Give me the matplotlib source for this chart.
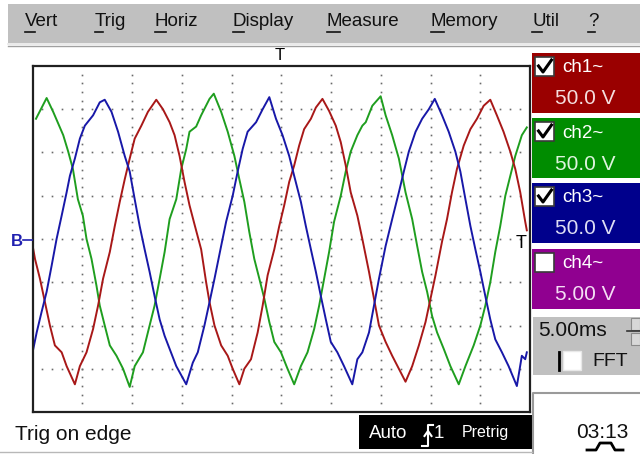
import numpy as np
import matplotlib
matplotlib.use("Agg")
import matplotlib.pyplot as plt
from matplotlib.patches import Rectangle

plt.rcParams['font.family'] = ['Liberation Sans', 'DejaVu Sans']

# ---- trace data (time in ms, voltage in V) ----
t_ch1 = [0.08, 0.25, 0.75, 1.25, 1.75, 2.25, 2.93, 3.43, 4.26, 4.76,
         5.43, 6.09, 6.59, 7.09, 7.77, 8.27, 8.77, 9.27, 9.77, 10.27,
         10.94, 11.60, 12.44, 13.11, 13.78, 14.28, 14.78, 15.28, 15.78, 16.28,
         16.95, 17.45, 17.79, 18.29, 18.96, 19.62, 20.12, 20.79, 21.29, 21.96,
         22.63, 23.13, 23.63, 24.30, 24.80, 25.30, 25.80, 26.30, 26.80, 27.30,
         27.98, 28.48, 29.14, 29.81, 30.48, 30.98, 31.48, 31.98, 32.65, 33.15,
         33.82, 34.32, 34.82, 35.49, 36.15, 36.82, 37.49, 38.16, 38.83, 39.50,
         40.00, 40.50, 41.16, 41.66, 42.16, 42.66, 43.34, 44.01, 44.67, 45.34,
         46.01, 46.67, 47.34, 48.02, 48.52, 49.02, 49.52, 49.68]
v_ch1 = [-12, -23, -46, -73, -100, -123, -131, -147, -168, -147,
         -131, -104, -77, -46, -15, 15, 43, 69, 93, 116,
         131, 147, 161, 150, 135, 120, 96, 66, 39, 17,
         -12, -50, -73, -100, -123, -135, -150, -168, -150, -139,
         -108, -77, -42, -12, 15, 39, 66, 85, 108, 127,
         139, 152, 162, 148, 131, 112, 85, 54, 27, 0,
         -38, -69, -100, -119, -135, -150, -165, -147, -123, -96,
         -69, -42, -3, 23, 54, 81, 108, 127, 139, 154,
         161, 143, 124, 101, 81, 54, 20, 10]

t_ch2 = [0.35, 1.42, 2.08, 3.09, 3.59, 4.06, 4.56, 5.06, 5.43, 5.93,
         6.43, 6.76, 7.26, 7.77, 8.44, 9.10, 9.77, 10.27, 11.10, 11.77,
         12.27, 12.78, 13.28, 13.78, 14.45, 14.95, 15.45, 15.78, 16.45, 16.95,
         17.79, 18.22, 18.96, 19.62, 20.29, 20.79, 21.29, 21.79, 22.29, 22.80,
         23.30, 23.80, 24.30, 24.97, 25.63, 26.30, 26.97, 27.64, 28.31, 28.81,
         29.31, 29.81, 30.31, 30.98, 31.48, 31.98, 32.65, 33.15, 33.49, 34.15,
         34.99, 35.49, 36.15, 36.82, 37.49, 38.16, 38.66, 39.16, 39.66, 40.16,
         40.66, 41.33, 42.00, 42.84, 43.51, 44.34, 45.01, 45.51, 46.01, 46.51,
         47.01, 47.52, 48.02, 48.52, 49.18, 49.68]
v_ch2 = [139, 163, 147, 120, 101, 81, 46, 27, 0, -23,
         -54, -77, -100, -123, -135, -150, -171, -147, -131, -100,
         -77, -46, -15, 23, 46, 81, 104, 124, 130, 143,
         162, 168, 147, 124, 96, 69, 43, 8, -23, -46,
         -69, -96, -119, -131, -150, -168, -147, -131, -104, -77,
         -46, -15, 20, 50, 78, 101, 120, 131, 135, 154,
         165, 143, 120, 93, 54, 23, -8, -38, -61, -89,
         -108, -127, -147, -168, -147, -123, -100, -77, -50, -15,
         15, 50, 73, 96, 120, 129]

t_ch3 = [0.08, 0.42, 0.92, 1.42, 1.92, 2.42, 2.93, 3.43, 3.76, 4.26,
         4.76, 5.26, 6.09, 6.76, 7.26, 7.94, 8.60, 9.27, 9.77, 10.27,
         10.77, 11.27, 11.77, 12.27, 12.78, 13.28, 13.78, 14.45, 15.45, 16.11,
         16.61, 17.28, 17.79, 18.29, 18.96, 19.46, 20.12, 20.62, 21.12, 21.62,
         22.47, 23.13, 23.80, 24.47, 25.13, 25.80, 26.30, 26.97, 27.47, 27.98,
         28.48, 28.98, 29.48, 29.98, 30.64, 31.31, 32.14, 32.65, 33.15, 33.82,
         34.32, 34.82, 35.49, 36.15, 36.82, 37.32, 37.82, 38.50, 39.16, 39.83,
         40.43, 41.16, 41.83, 42.50, 43.00, 43.51, 44.01, 44.51, 45.01, 45.51,
         46.01, 46.51, 47.18, 47.85, 48.68, 49.18, 49.52, 49.68]
v_ch3 = [-127, -108, -84, -61, -31, 0, 27, 54, 73, 93,
         116, 131, 143, 158, 161, 147, 124, 96, 78, 46,
         15, -12, -38, -66, -93, -112, -127, -147, -168, -143,
         -131, -100, -73, -46, -8, 20, 50, 78, 104, 124,
         135, 150, 164, 139, 120, 96, 73, 43, 15, -12,
         -38, -66, -93, -119, -131, -147, -168, -139, -131, -108,
         -77, -46, -8, 23, 54, 78, 101, 124, 139, 150,
         162, 143, 124, 101, 78, 46, 15, -12, -38, -66,
         -93, -116, -131, -147, -170, -135, -139, -131]

menu_items = ["Vert", "Trig", "Horiz", "Display", "Measure", "Memory", "Util", "?"]
ch_labels = ["ch1~", "ch2~", "ch3~", "ch4~"]
ch_scales = ["50.0 V", "50.0 V", "50.0 V", "5.00 V"]
ch_checked = [True, True, True, False]
timebase = "5.00ms"
clock = "03:13"
status = "Trig on edge"

W, H = 640, 454
fig = plt.figure(figsize=(6.4, 4.54), dpi=100)
fig.patch.set_facecolor("white")


def px_rect(l, t, r, b):
    return [l / W, 1 - b / H, (r - l) / W, (b - t) / H]


# ---- scope screen ----
scope = fig.add_axes(px_rect(32.5, 66, 530, 412), zorder=1)
scope.set_xlim(0, 50)
scope.set_ylim(-200, 200)
scope.set_xticks([])
scope.set_yticks([])
for s in scope.spines.values():
    s.set_linewidth(1.6)
    s.set_color("#202020")

dot_kw = dict(ls="none", marker="s", ms=1.2, color="#6a6a6a", mec="none")
ys = np.arange(-190, 200, 10)
for k in range(1, 10):
    scope.plot(np.full(len(ys), k * 5.0), ys, **dot_kw)
xs = np.arange(1, 50, 1)
for k in range(-3, 4):
    scope.plot(xs, np.full(len(xs), k * 50.0), **dot_kw)

scope.plot(t_ch2, v_ch2, color="#1f9e1f", lw=1.4)
scope.plot(t_ch1, v_ch1, color="#a81818", lw=1.4)
scope.plot(t_ch3, v_ch3, color="#1818a8", lw=1.4)

# ---- UI chrome overlay, pixel coordinates ----
ui = fig.add_axes([0, 0, 1, 1], zorder=5)
ui.set_xlim(0, W)
ui.set_ylim(H, 0)
ui.axis("off")
ui.patch.set_alpha(0)

# menu bar
ui.add_patch(Rectangle((8, 4), 632, 39, fc="#c0c0c0", ec="none"))
ui.plot([8, 640], [44, 44], color="#e6e6e6", lw=1.2)
ui.plot([8, 640], [46, 46], color="#a0a0a0", lw=1.0)
menu_x = [25, 95, 155, 233, 327, 431, 532, 588]
ul_w = [10, 8, 11, 11, 13, 13, 10, 7]
for name, x, w in zip(menu_items, menu_x, ul_w):
    ui.text(x, 22, name, fontsize=13.5, ha="left", va="center", color="#111111")
    ui.plot([x, x + w], [32, 32], color="#111111", lw=1.2)

# trigger / ground markers
ui.text(280, 55, "T", fontsize=12, ha="center", va="center")
ui.text(521, 244, "T", fontsize=13, ha="center", va="center")
ui.text(17, 241, "B", fontsize=12, ha="center", va="center", color="#2020b0",
        fontweight="bold")
ui.plot([23, 32], [240, 240], color="#2020b0", lw=1.2)

# channel boxes
box_fc = ["#9a0000", "#008c00", "#00008c", "#900090"]
txt_fc = ["#f4dede", "#def4de", "#dedef4", "#f4def4"]
box_top = [53, 118, 183, 249]
for lab, sc, chk, fc, tc, y0 in zip(ch_labels, ch_scales, ch_checked, box_fc, txt_fc, box_top):
    ui.add_patch(Rectangle((532, y0), 108, 60, fc=fc, ec="none"))
    ui.add_patch(Rectangle((535, y0 + 4), 19, 19, fc="white", ec="#3a3a3a", lw=1.2))
    if chk:
        ui.plot([538.5, 543, 551.5], [y0 + 13, y0 + 19, y0 + 7], color="black", lw=2.2)
    ui.text(562, y0 + 15, lab, fontsize=13.5, ha="left", va="center", color="white")
    ui.text(555, y0 + 46, sc, fontsize=15, ha="left", va="center", color=tc)

# timebase panel
ui.add_patch(Rectangle((533, 317), 107, 58, fc="#c0c0c0", ec="none"))
ui.text(538, 331, timebase, fontsize=15, ha="left", va="center", color="#111111")
ui.plot([559, 559], [352, 370], color="black", lw=2)
ui.add_patch(Rectangle((563, 351), 18, 19, fc="white", ec="#e8e8e8", lw=1))
ui.text(592, 361, "FFT", fontsize=14, ha="left", va="center", color="#111111")
ui.add_patch(Rectangle((631, 318), 9, 12, fc="#d8d8d8", ec="#8a8a8a", lw=0.8))
ui.add_patch(Rectangle((631, 333), 9, 12, fc="#d8d8d8", ec="#8a8a8a", lw=0.8))
ui.plot([627, 640], [331, 331], color="#333333", lw=1.2)

# clock panel
ui.plot([533, 533, 640], [454, 393, 393], color="#9a9a9a", lw=1.5)
ui.text(602, 432, clock, fontsize=15, ha="center", va="center", color="#111111")
ui.plot([587, 596, 600, 611, 615, 623], [450, 450, 443, 443, 450, 450],
        color="black", lw=2)

# status bar
ui.text(15, 434, status, fontsize=15, ha="left", va="center", color="#111111")
ui.add_patch(Rectangle((359, 415), 173, 34, fc="black", ec="none"))
ui.text(369, 434, "Auto", fontsize=13.5, ha="left", va="center", color="white")
ui.plot([422, 428, 428, 433], [446, 446, 425, 425], color="white", lw=1.5)
ui.plot([424.5, 428, 431.5], [436, 431, 436], color="white", lw=1.5)
ui.text(434, 434, "1", fontsize=13.5, ha="left", va="center", color="white")
ui.text(462, 432, "Pretrig", fontsize=11.5, ha="left", va="center", color="white")
ui.plot([0, 532], [452, 452], color="#b8b8b8", lw=1)

fig.savefig("out.png", dpi=100)
